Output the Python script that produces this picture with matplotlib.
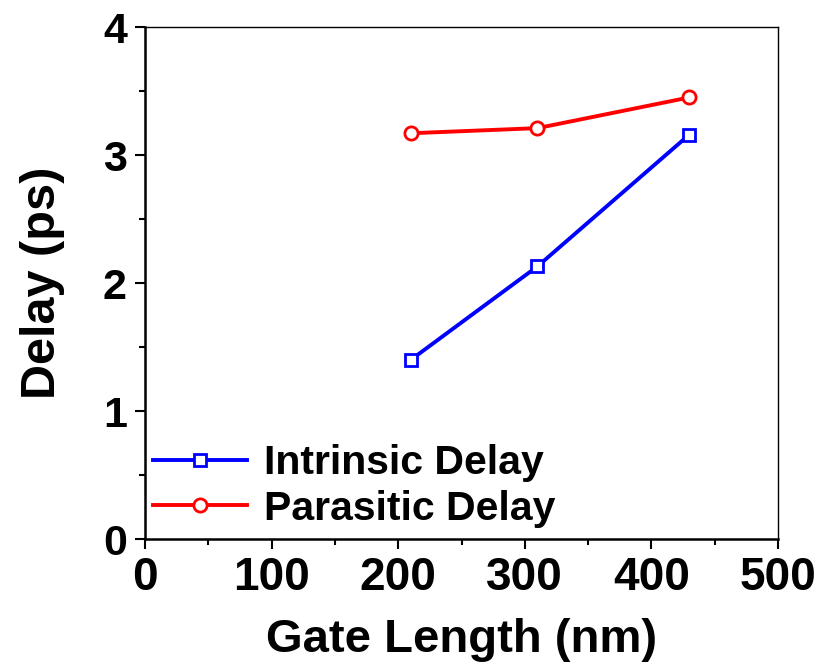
import numpy as np
import matplotlib
matplotlib.use('Agg')
import matplotlib.pyplot as plt
from matplotlib.ticker import MultipleLocator

# Data
gate_length = [210, 310, 430]
intrinsic_delay = [1.40, 2.13, 3.16]
parasitic_delay = [3.17, 3.21, 3.45]

plt.rcParams['font.family'] = ['Liberation Sans', 'DejaVu Sans']
plt.rcParams['font.weight'] = 'bold'

fig = plt.figure(figsize=(8.22, 6.67), dpi=100)
ax = fig.add_axes([0.1764, 0.1919, 0.7701, 0.7676])

ax.plot(gate_length, intrinsic_delay, color='#0000ff', lw=2.8, marker='s',
        ms=8, mfc='white', mec='#0000ff', mew=2, label='Intrinsic Delay')
ax.plot(gate_length, parasitic_delay, color='#ff0000', lw=2.8, marker='o',
        ms=9.5, mfc='white', mec='#ff0000', mew=2, label='Parasitic Delay')

ax.set_xlim(0, 500)
ax.set_ylim(0, 4)
ax.xaxis.set_major_locator(MultipleLocator(100))
ax.xaxis.set_minor_locator(MultipleLocator(50))
ax.yaxis.set_major_locator(MultipleLocator(1))
ax.yaxis.set_minor_locator(MultipleLocator(0.5))

ax.tick_params(which='major', direction='out', length=7, width=1.5, pad=5)
ax.tick_params(which='minor', direction='out', length=4, width=1.5)
ax.tick_params(axis='x', which='major', labelsize=33)
ax.tick_params(axis='y', which='major', labelsize=31, pad=6)
for lab in ax.get_xticklabels() + ax.get_yticklabels():
    lab.set_fontweight('bold')

ax.spines['left'].set_linewidth(1.8)
ax.spines['bottom'].set_linewidth(1.8)
ax.spines['top'].set_linewidth(1)
ax.spines['right'].set_linewidth(1)

ax.set_xlabel('Gate Length (nm)', fontsize=34, fontweight='bold', labelpad=13)
ax.set_ylabel('Delay (ps)', fontsize=35, fontweight='bold', labelpad=27)

ax.legend(loc='lower left', frameon=False, fontsize=29.5, handlelength=2.3,
          handletextpad=0.4, borderaxespad=0.0, borderpad=0.2,
          bbox_to_anchor=(0.0, 0.006), labelspacing=0.18)

fig.savefig('out.png', dpi=100)
